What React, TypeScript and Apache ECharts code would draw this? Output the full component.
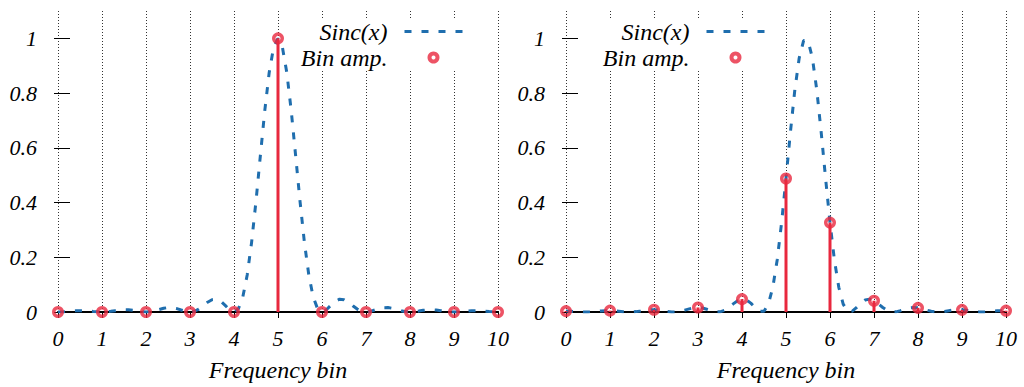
import React, { useEffect, useRef } from "react";
import * as echarts from "echarts";

// Frequency-bin positions (x) and bin amplitudes
const binX = [0, 1, 2, 3, 4, 5, 6, 7, 8, 9, 10];
const binAmpLeft = [0, 0, 0, 0, 0, 1, 0, 0, 0, 0, 0];
const binAmpRight = [0.0033, 0.005, 0.0083, 0.0165, 0.047, 0.4881, 0.3267, 0.0411, 0.0152, 0.0078, 0.0048];

// Sample positions of the Sinc(x) curves
const curveX = [
  0, 0.1, 0.2, 0.3, 0.4, 0.5, 0.6, 0.7, 0.8, 0.9,
  1, 1.1, 1.2, 1.3, 1.4, 1.5, 1.6, 1.7, 1.8, 1.9,
  2, 2.1, 2.2, 2.3, 2.4, 2.5, 2.6, 2.7, 2.8, 2.9,
  3, 3.1, 3.2, 3.3, 3.4, 3.5, 3.6, 3.7, 3.8, 3.9,
  4, 4.1, 4.2, 4.3, 4.4, 4.5, 4.6, 4.7, 4.8, 4.9,
  5, 5.1, 5.2, 5.3, 5.4, 5.5, 5.6, 5.7, 5.8, 5.9,
  6, 6.1, 6.2, 6.3, 6.4, 6.5, 6.6, 6.7, 6.8, 6.9,
  7, 7.1, 7.2, 7.3, 7.4, 7.5, 7.6, 7.7, 7.8, 7.9,
  8, 8.1, 8.2, 8.3, 8.4, 8.5, 8.6, 8.7, 8.8, 8.9,
  9, 9.1, 9.2, 9.3, 9.4, 9.5, 9.6, 9.7, 9.8, 9.9,
  10,
];

const sincLeft = [
  0, 0.0004, 0.0015, 0.003, 0.0043, 0.005, 0.0047, 0.0036, 0.002, 0.0006,
  0, 0.0006, 0.0024, 0.0048, 0.0071, 0.0083, 0.0079, 0.0061, 0.0034, 0.001,
  0, 0.0012, 0.0045, 0.0091, 0.0136, 0.0162, 0.0159, 0.0125, 0.0072, 0.0022,
  0, 0.0027, 0.0108, 0.0229, 0.0358, 0.045, 0.0468, 0.0392, 0.0243, 0.008,
  0, 0.0119, 0.0547, 0.1353, 0.2546, 0.4053, 0.5728, 0.7368, 0.8751, 0.9675,
  1, 0.9675, 0.8751, 0.7368, 0.5728, 0.4053, 0.2546, 0.1353, 0.0547, 0.0119,
  0, 0.008, 0.0243, 0.0392, 0.0468, 0.045, 0.0358, 0.0229, 0.0108, 0.0027,
  0, 0.0022, 0.0072, 0.0125, 0.0159, 0.0162, 0.0136, 0.0091, 0.0045, 0.0012,
  0, 0.001, 0.0034, 0.0061, 0.0079, 0.0083, 0.0071, 0.0048, 0.0024, 0.0006,
  0, 0.0006, 0.002, 0.0036, 0.0047, 0.005, 0.0043, 0.003, 0.0015, 0.0004,
  0,
];

const sincRight = [
  0.0033, 0.0028, 0.0018, 0.0008, 0.0001, 0.0001, 0.0009, 0.0023, 0.0037, 0.0048,
  0.005, 0.0043, 0.0028, 0.0012, 0.0002, 0.0002, 0.0014, 0.0036, 0.006, 0.0078,
  0.0083, 0.0072, 0.0048, 0.0021, 0.0003, 0.0003, 0.0026, 0.0067, 0.0115, 0.0152,
  0.0165, 0.0146, 0.01, 0.0045, 0.0006, 0.0007, 0.0061, 0.0165, 0.0296, 0.0411,
  0.047, 0.0441, 0.0324, 0.0158, 0.0023, 0.0028, 0.0289, 0.0901, 0.1904, 0.3267,
  0.4881, 0.6566, 0.8106, 0.9281, 0.9918, 0.9918, 0.9281, 0.8106, 0.6566, 0.4881,
  0.3267, 0.1904, 0.0901, 0.0289, 0.0028, 0.0023, 0.0158, 0.0324, 0.0441, 0.047,
  0.0411, 0.0296, 0.0165, 0.0061, 0.0007, 0.0006, 0.0045, 0.01, 0.0146, 0.0165,
  0.0152, 0.0115, 0.0067, 0.0026, 0.0003, 0.0003, 0.0021, 0.0048, 0.0072, 0.0083,
  0.0078, 0.006, 0.0036, 0.0014, 0.0002, 0.0002, 0.0012, 0.0028, 0.0043, 0.005,
  0.0048,
];

const yTicks = [0, 0.2, 0.4, 0.6, 0.8, 1];
const xAxisName = "Frequency bin";
const seriesNames = ["Sinc(x)", "Bin amp."];

const FONT = "Liberation Serif";
const BLUE = "#1f6eae";
const RED = "#e8283e";

export default function App() {
  const ref = useRef<HTMLDivElement>(null);

  useEffect(() => {
    if (!ref.current) return;
    const chart = echarts.init(ref.current, null, { renderer: "svg" });

    const grids = [
      { left: 58, right: 526, top: 11, bottom: 68 },
      { left: 566, right: 18, top: 11, bottom: 68 },
    ];

    const txt = (size: number) => ({
      fontFamily: FONT,
      fontStyle: "italic",
      fontSize: size,
      color: "#000",
    });

    const xAxes: any[] = [];
    const yAxes: any[] = [];
    grids.forEach((_, g) => {
      xAxes.push({
        type: "value",
        gridIndex: g,
        position: "bottom",
        min: 0,
        max: 10,
        interval: 1,
        name: xAxisName,
        nameLocation: "middle",
        nameGap: 46,
        nameTextStyle: txt(24),
        axisLine: { show: true, lineStyle: { color: "#000", width: 2 } },
        axisTick: { show: false },
        axisLabel: { ...txt(22), margin: 15 },
        splitLine: { show: true, lineStyle: { color: "#333", width: 1, type: [1, 2] } },
      });
      xAxes.push({
        type: "value",
        gridIndex: g,
        position: "top",
        min: 0,
        max: 10,
        interval: 1,
        axisLine: { show: false },
        axisTick: { show: true, inside: true, length: 6, lineStyle: { color: "#000", width: 1 } },
        axisLabel: { show: false },
        splitLine: { show: false },
      });
      yAxes.push({
        type: "value",
        gridIndex: g,
        position: "left",
        offset: -4,
        min: 0,
        max: 1.1,
        axisLine: { show: false },
        axisTick: { show: true, length: 8, customValues: yTicks, lineStyle: { color: "#000", width: 1 } },
        axisLabel: { ...txt(22), customValues: yTicks, margin: 25 },
        splitLine: { show: false },
      });
      yAxes.push({
        type: "value",
        gridIndex: g,
        position: "right",
        offset: -4,
        min: 0,
        max: 1.1,
        axisLine: { show: false },
        axisTick: { show: true, length: 8, customValues: yTicks, lineStyle: { color: "#000", width: 1 } },
        axisLabel: { show: false },
        splitLine: { show: false },
      });
    });

    const curves = [sincLeft, sincRight];
    const bins = [binAmpLeft, binAmpRight];
    const series: any[] = [];
    grids.forEach((_, g) => {
      const xi = g * 2;
      const yi = g * 2;
      series.push({
        type: "line",
        name: seriesNames[0],
        xAxisIndex: xi,
        yAxisIndex: yi,
        data: curveX.map((x, i) => [x, curves[g][i]]),
        symbol: "none",
        lineStyle: { color: BLUE, width: 3, type: [7, 10], cap: "butt" },
        itemStyle: { color: BLUE },
        z: 2,
      });
      series.push({
        type: "custom",
        name: "stems" + g,
        xAxisIndex: xi,
        yAxisIndex: yi,
        data: binX.map((x, i) => [x, bins[g][i]]),
        encode: { x: 0, y: 1 },
        renderItem: (params: any, api: any) => {
          const x = api.value(0);
          const y = api.value(1);
          const p0 = api.coord([x, 0]);
          const p1 = api.coord([x, y]);
          return {
            type: "line",
            shape: { x1: p0[0], y1: p0[1], x2: p1[0], y2: p1[1] },
            style: { stroke: RED, lineWidth: 3 },
          };
        },
        z: 3,
      });
      series.push({
        type: "scatter",
        name: seriesNames[1],
        xAxisIndex: xi,
        yAxisIndex: yi,
        data: binX.map((x, i) => [x, bins[g][i]]),
        symbol: "circle",
        symbolSize: 8.5,
        itemStyle: { color: "rgba(255,255,255,0)", borderColor: RED, borderWidth: 3.5 },
        z: 4,
      });
    });

    const legendBase = {
      orient: "vertical",
      align: "right",
      top: 18,
      itemWidth: 58,
      itemHeight: 8,
      itemGap: 1,
      padding: [1, 8, 0, 8],
      backgroundColor: "#fff",
      textStyle: { ...txt(24), lineHeight: 25, padding: [0, 12, 0, 0] },
      data: [
        { name: seriesNames[0], itemStyle: { opacity: 0 }, lineStyle: { width: 3, type: [7, 10] } },
        { name: seriesNames[1], itemStyle: { borderWidth: 4, borderColor: RED, color: "rgba(255,255,255,0)" } },
      ],
      selectedMode: false,
      z: 10,
    };

    chart.setOption({
      animation: false,
      backgroundColor: "#fff",
      textStyle: { fontFamily: FONT },
      grid: grids,
      xAxis: xAxes,
      yAxis: yAxes,
      legend: [
        { ...legendBase, right: 552 },
        { ...legendBase, right: 250 },
      ],
      series,
    });

    return () => chart.dispose();
  }, []);

  return (
    <div
      ref={ref}
      style={{ position: "fixed", left: 0, top: 0, width: 1024, height: 387 }}
    />
  );
}
